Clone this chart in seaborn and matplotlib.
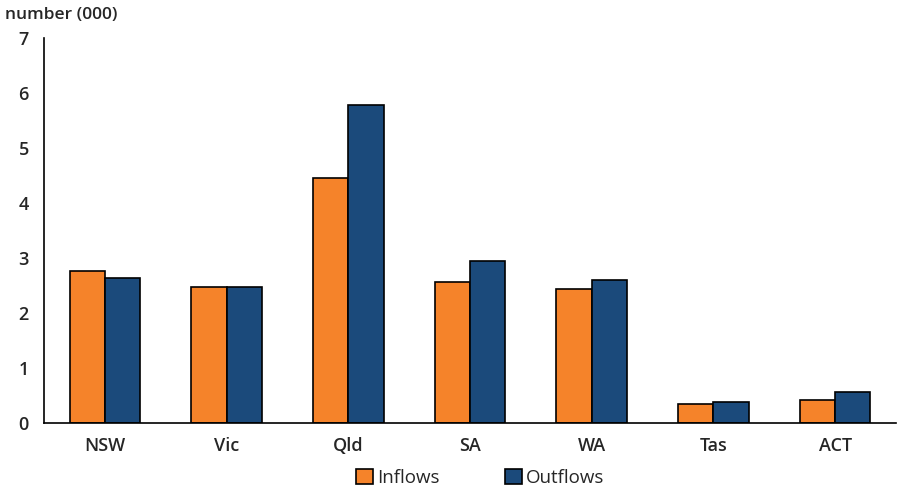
import pandas as pd
import matplotlib.pyplot as plt
import seaborn as sns

# datos
estados = ["NSW", "Vic", "Qld", "SA", "WA", "Tas", "ACT"]
inflows = [2.77, 2.47, 4.46, 2.56, 2.43, 0.34, 0.41]
outflows = [2.64, 2.47, 5.78, 2.94, 2.60, 0.39, 0.56]

df = pd.DataFrame({
    "estado": estados * 2,
    "valor": inflows + outflows,
    "serie": ["Inflows"] * len(estados) + ["Outflows"] * len(estados),
})

sns.set_style("white")
plt.rcParams["font.family"] = ["Open Sans", "DejaVu Sans"]

colores = {"Inflows": "#F5832A", "Outflows": "#1B4A7B"}

fig = plt.figure(figsize=(8.97, 4.91), dpi=100)
ax = fig.add_axes([44 / 897, 1 - 423 / 491, 852 / 897, 385 / 491])

sns.barplot(data=df, x="estado", y="valor", hue="serie", palette=colores,
            width=0.58, edgecolor="black", linewidth=1.2, saturation=1, ax=ax)

ax.set_ylim(0, 7)
ax.set_xlim(-0.5, 6.5)
ax.set_yticks(range(0, 8))
ax.set_xlabel("")
ax.set_ylabel("")
for s in ["top", "right"]:
    ax.spines[s].set_visible(False)
ax.spines["left"].set_color("black")
ax.spines["bottom"].set_color("black")
ax.spines["left"].set_linewidth(1.2)
ax.spines["bottom"].set_linewidth(1.2)
ax.tick_params(axis="both", length=0, labelsize=13, pad=10)
for lab in ax.get_xticklabels() + ax.get_yticklabels():
    lab.set_fontweight("semibold")
ax.tick_params(axis="y", pad=11)

fig.text(5 / 897, 1 - 15 / 491, "number (000)", fontsize=12.5, fontweight="semibold",
         va="center", ha="left")

ax.legend(loc="center", bbox_to_anchor=(480 / 897, 1 - 478 / 491),
          bbox_transform=fig.transFigure, ncol=2, frameon=False, fontsize=13.5,
          handlelength=0.9, handleheight=0.9, handletextpad=0.2, columnspacing=3.5)

fig.savefig("out.png", dpi=100)
